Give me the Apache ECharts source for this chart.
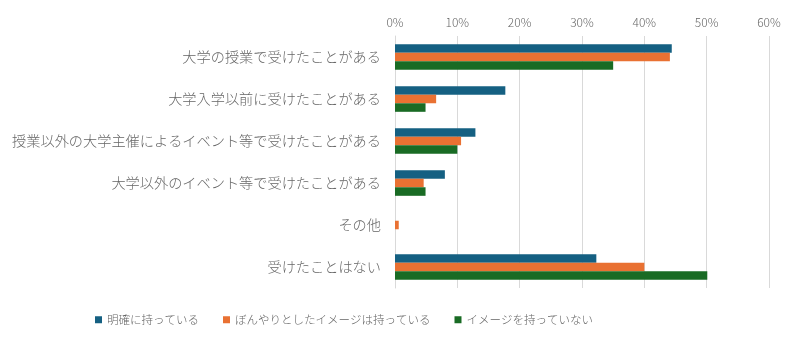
<!DOCTYPE html>
<html><head><meta charset="utf-8">
<script src="https://cdn.jsdelivr.net/npm/echarts@6/dist/echarts.min.js"></script>
<style>html,body{margin:0;padding:0;background:#fff}#c{width:800px;height:342px}</style>
</head><body><div id="c"></div>
<script>
const categories = ["大学の授業で受けたことがある","大学入学以前に受けたことがある","授業以外の大学主催によるイベント等で受けたことがある","大学以外のイベント等で受けたことがある","その他","受けたことはない"];
const seriesNames = ["明確に持っている","ぼんやりとしたイメージは持っている","イメージを持っていない"];
const clear = [44.4, 17.7, 12.9, 8.0, 0, 32.3];
const vague = [44.1, 6.6, 10.6, 4.6, 0.6, 40.0];
const none = [35.0, 4.9, 10.0, 4.9, 0, 50.1];
const colors = ["#156082","#E97132","#196B24"];
const font = "'Noto Sans CJK JP', 'Noto Sans', sans-serif";
const chart = echarts.init(document.getElementById('c'));
const data = [clear, vague, none];
chart.setOption({
  animation:false,
  textStyle:{fontFamily:font},
  legend:{top:314,left:95,padding:0,itemWidth:7,itemHeight:7,itemGap:24,icon:'rect',
    textStyle:{color:'#666666',fontSize:11.5,fontFamily:font,fontWeight:300},data:seriesNames},
  grid:{left:395,right:31,top:36,bottom:54},
  xAxis:{type:'value',position:'top',min:0,max:60,interval:10,
    axisLabel:{formatter:'{value}%',color:'#666666',fontSize:12,fontFamily:font,fontWeight:300},
    axisLine:{show:false},axisTick:{show:false},
    splitLine:{lineStyle:{color:'#d9d9d9',width:1}}},
  yAxis:{type:'category',data:categories,inverse:true,
    axisLabel:{color:'#666666',fontSize:14.2,fontFamily:font,fontWeight:300,margin:14},
    axisLine:{show:true,lineStyle:{color:'#d9d9d9'}},axisTick:{show:false}},
  series:seriesNames.map((n,i)=>({name:n,type:'bar',data:data[i],barGap:'0%',barCategoryGap:'39%',
    itemStyle:{color:colors[i]}}))
});
</script></body></html>
